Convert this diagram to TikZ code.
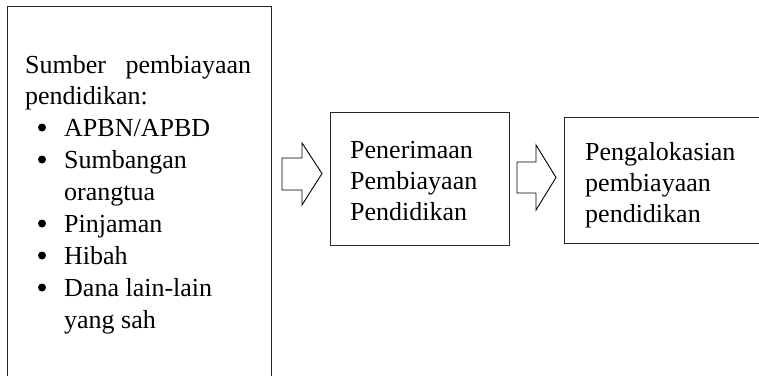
\documentclass[tikz,border=0pt]{standalone}
\usepackage{fontspec}
\setmainfont{Liberation Serif}
\begin{document}
\begin{tikzpicture}[x=1pt,y=-1pt,
  boxline/.style={draw=black!85,line width=0.9pt},
  txt/.style={anchor=base west,inner sep=0pt,font=\fontsize{26}{31}\selectfont},
  bul/.style={circle,fill=black,inner sep=0pt,minimum size=8pt},
  blockarrow/.style={draw=black,line width=0.9pt,line join=miter,fill=white}]
\useasboundingbox (0,0) rectangle (759,375);
\begin{scope}
\clip (0,0) rectangle (759,375);
% boxes
\node[boxline,rectangle,anchor=north west,minimum width=264pt,minimum height=380pt,inner sep=0pt] (src) at (7,6) {};
\node[boxline,rectangle,anchor=north west,minimum width=179pt,minimum height=133pt,inner sep=0pt] (recv) at (329.5,112) {};
\draw[boxline] (800,117) -- (564,117) -- (564,243) -- (800,243);
\coordinate (alloc) at (564,180);
\end{scope}
% left box text
\node[txt] (t1) at (25,73) {\hbox to 226pt{Sumber\hfill pembiayaan}};
\node[txt] (t2) at (25,104.5) {pendidikan:};
\node[txt] (i1) at (64,136) {APBN/APBD};
\node[txt] (i2) at (64,168) {Sumbangan};
\node[txt] (i2b) at (64,200) {orangtua};
\node[txt] (i3) at (64,232) {Pinjaman};
\node[txt] (i4) at (64,264) {Hibah};
\node[txt] (i5) at (64,296) {Dana lain-lain};
\node[txt] (i5b) at (64,328) {yang sah};
\foreach \n/\y in {b1/136,b2/168,b3/232,b4/264,b5/296}
  \node[bul] (\n) at (42,\y-8.5) {};
% middle box text
\node[txt] (r1) at (350,158) {Penerimaan};
\node[txt] (r2) at (350,189) {Pembiayaan};
\node[txt] (r3) at (350,220) {Pendidikan};
% right box text
\node[txt] (a1) at (585,160) {Pengalokasian};
\node[txt] (a2) at (585,191) {pembiayaan};
\node[txt] (a3) at (585,222) {pendidikan};
% block arrows
\coordinate (p1) at (282,158);
\draw[blockarrow] (p1) -- (302,158) -- (302,143) -- (322,173.5) -- (302,205) -- (302,190) -- (282,190) -- cycle;
\coordinate (p2) at (517,162);
\draw[blockarrow] (p2) -- (536,162) -- (536,145) -- (556,177.5) -- (536,210) -- (536,193) -- (517,193) -- cycle;
\end{tikzpicture}
\end{document}
